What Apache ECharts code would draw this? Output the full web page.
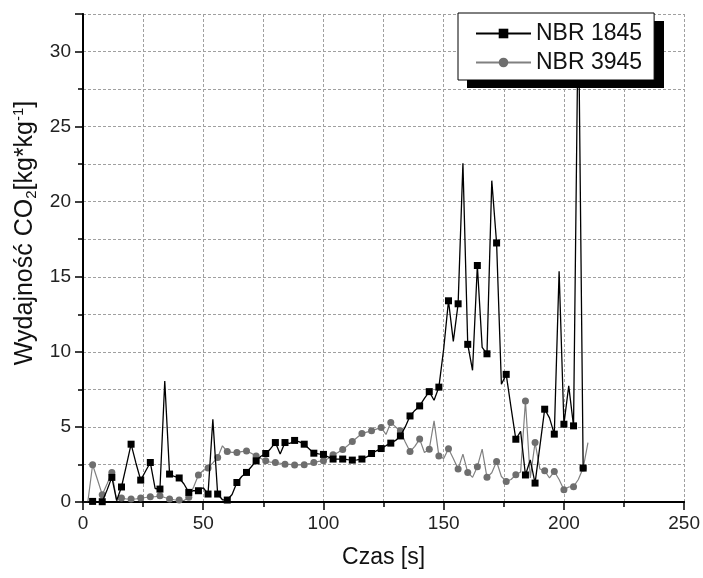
<!DOCTYPE html>
<html>
<head>
<meta charset="utf-8">
<script src="https://cdn.jsdelivr.net/npm/echarts@6/dist/echarts.min.js"></script>
<style>
  html, body { margin: 0; padding: 0; background: #fff; }
  #chart { width: 703px; height: 578px; }
</style>
</head>
<body>
<div id="chart"></div>
<script>
const seriesNames = ["NBR 1845", "NBR 3945"];

// czas [s] co 2 s
const timeA = [0, 2, 4, 6, 8, 10, 12, 14, 16, 18, 20, 22, 24, 26, 28, 30, 32, 34, 36, 38,
  40, 42, 44, 46, 48, 50, 52, 54, 56, 58, 60, 62, 64, 66, 68, 70, 72, 74, 76, 78,
  80, 82, 84, 86, 88, 90, 92, 94, 96, 98, 100, 102, 104, 106, 108, 110, 112, 114, 116, 118,
  120, 122, 124, 126, 128, 130, 132, 134, 136, 138, 140, 142, 144, 146, 148, 150, 152, 154, 156, 158,
  160, 162, 164, 166, 168, 170, 172, 174, 176, 178, 180, 182, 184, 186, 188, 190, 192, 194, 196, 198,
  200, 202, 204, 206, 208];
const valuesA = [0, 0, 0.04, 0.02, 0.02, 0.8, 1.64, 0.1, 1.0, 2.4, 3.85, 2.6, 1.46, 2.05, 2.63, 0.9, 0.86, 8.06, 1.86, 1.7,
  1.6, 1.2, 0.64, 0.75, 0.75, 0.95, 0.53, 5.5, 0.53, 0.15, 0.13, 0.5, 1.3, 1.7, 1.97, 2.35, 2.74, 3.05, 3.23, 3.55,
  3.96, 3.19, 3.96, 3.9, 4.1, 4.0, 3.85, 3.55, 3.25, 3.2, 3.17, 3.0, 2.86, 2.86, 2.86, 2.82, 2.79, 2.8, 2.86, 3.0,
  3.23, 3.4, 3.56, 3.75, 3.92, 4.1, 4.4, 5.0, 5.73, 6.1, 6.4, 6.9, 7.35, 6.78, 7.65, 10.2, 13.4, 10.7, 13.2, 22.56,
  10.5, 8.77, 15.75, 10.3, 9.87, 21.4, 17.25, 7.84, 8.5, 6.3, 4.18, 4.7, 1.8, 2.8, 1.26, 3.7, 6.18, 5.6, 4.52, 15.37,
  5.18, 7.73, 5.07, 33.5, 2.26];

const timeB = [0, 2, 4, 6, 8, 10, 12, 14, 16, 18, 20, 22, 24, 26, 28, 30, 32, 34, 36, 38,
  40, 42, 44, 46, 48, 50, 52, 54, 56, 58, 60, 62, 64, 66, 68, 70, 72, 74, 76, 78,
  80, 82, 84, 86, 88, 90, 92, 94, 96, 98, 100, 102, 104, 106, 108, 110, 112, 114, 116, 118,
  120, 122, 124, 126, 128, 130, 132, 134, 136, 138, 140, 142, 144, 146, 148, 150, 152, 154, 156, 158,
  160, 162, 164, 166, 168, 170, 172, 174, 176, 178, 180, 182, 184, 186, 188, 190, 192, 194, 196, 198,
  200, 202, 204, 206, 208, 210];
const valuesB = [0, 0, 2.48, 1.5, 0.49, 1.2, 1.97, 0.1, 0.27, 0.2, 0.2, 0.2, 0.27, 0.3, 0.35, 0.35, 0.42, 0.3, 0.2, 0.15,
  0.13, 0.1, 0.31, 1.0, 1.8, 2.1, 2.26, 2.6, 2.97, 3.74, 3.36, 3.3, 3.3, 3.35, 3.4, 3.25, 3.07, 2.9, 2.74, 2.65,
  2.63, 2.58, 2.52, 2.5, 2.46, 2.47, 2.48, 2.55, 2.63, 2.7, 2.74, 2.9, 3.14, 3.3, 3.5, 3.75, 4.03, 4.3, 4.56, 4.65,
  4.74, 4.85, 4.96, 4.5, 5.3, 5.0, 4.74, 4.0, 3.36, 3.7, 4.19, 3.3, 3.52, 5.4, 3.07, 2.9, 3.55, 2.9, 2.19, 3.19,
  1.97, 1.64, 2.35, 3.52, 1.64, 1.95, 2.7, 1.7, 1.37, 1.5, 1.81, 2.0, 6.73, 1.6, 3.96, 2.2, 2.08, 1.6, 2.03, 1.5,
  0.82, 1.0, 1.02, 1.5, 2.26, 3.96];

const xTicks = [0, 50, 100, 150, 200, 250];
const yTicks = [0, 5, 10, 15, 20, 25, 30];

const font = "'Liberation Sans', Arial, sans-serif";
const pairs = (t, v) => t.map((x, i) => [x, v[i]]);
// znacznik co drugi punkt (jak w oryginale)
const markEvery = (size) => (val, params) =>
  params && params.dataIndex > 0 && params.dataIndex % 2 === 0 ? size : 0;

const gridLine = { show: true, lineStyle: { color: "#a0a0a0", type: [3, 2], width: 1 } };

const chart = echarts.init(document.getElementById("chart"), null, { renderer: "canvas" });
chart.setOption({
  animation: false,
  backgroundColor: "#fff",
  textStyle: { fontFamily: font },
  grid: { left: 83, right: 17, top: 14, bottom: 76 },
  // cien legendy (prostokat pod ramka)
  graphic: [{
    type: "rect",
    left: 467,
    top: 21,
    z: 20,
    shape: { width: 197, height: 67 },
    style: { fill: "#000" }
  }],
  legend: {
    left: 458,
    top: 13,
    z: 30,
    orient: "vertical",
    backgroundColor: "#fff",
    borderColor: "#000",
    borderWidth: 1,
    padding: [9, 12, 6, 17],
    itemWidth: 55,
    itemHeight: 12,
    itemGap: 6,
    textStyle: { fontSize: 23, color: "#111", fontFamily: font },
    data: seriesNames
  },
  xAxis: [{
    type: "value",
    min: xTicks[0],
    max: xTicks[xTicks.length - 1],
    interval: 50,
    name: "Czas [s]",
    nameLocation: "middle",
    nameGap: 44,
    nameTextStyle: { fontSize: 23, color: "#111" },
    axisLine: { show: true, onZero: false, lineStyle: { color: "#000", width: 2 } },
    axisTick: { show: true, inside: false, length: 8, lineStyle: { color: "#000", width: 1.5 } },
    minorTick: { show: true, splitNumber: 2, length: 5, lineStyle: { color: "#000", width: 1.5 } },
    axisLabel: { fontSize: 19, color: "#222", margin: 12 },
    splitLine: gridLine,
    minorSplitLine: gridLine
  }, {
    type: "value",
    position: "top",
    min: 0,
    max: 250,
    interval: 50,
    axisLine: { show: true, lineStyle: { color: "#000", width: 1.5 } },
    axisTick: { show: false },
    axisLabel: { show: false },
    splitLine: { show: false }
  }],
  yAxis: [{
    type: "value",
    min: 0,
    max: 32.5,
    interval: 5,
    name: "Wydajność CO{sub|2}[kg*kg{sup|-1}]",
    nameLocation: "middle",
    nameGap: 40,
    nameTextStyle: {
      fontSize: 25,
      color: "#111",
      padding: [0, 0, 0, 50],
      rich: {
        sub: { fontSize: 15, color: "#111", padding: [13, 0, 0, 0] },
        sup: { fontSize: 15, color: "#111", padding: [0, 0, 13, 0] }
      }
    },
    axisLine: { show: true, onZero: false, lineStyle: { color: "#000", width: 2 } },
    axisTick: { show: true, inside: false, length: 8, lineStyle: { color: "#000", width: 1.5 } },
    minorTick: { show: true, splitNumber: 2, length: 5, lineStyle: { color: "#000", width: 1.5 } },
    axisLabel: {
      fontSize: 19,
      color: "#222",
      margin: 12,
      formatter: (v) => (yTicks.indexOf(v) >= 0 ? String(v) : "")
    },
    splitLine: gridLine,
    minorSplitLine: gridLine
  }, {
    type: "value",
    position: "right",
    min: 0,
    max: 32.5,
    interval: 5,
    axisLine: { show: true, lineStyle: { color: "#000", width: 1.5 } },
    axisTick: { show: false },
    axisLabel: { show: false },
    splitLine: { show: false }
  }],
  series: [{
    name: seriesNames[0],
    type: "line",
    data: pairs(timeA, valuesA),
    symbol: "rect",
    symbolSize: markEvery(7),
    showAllSymbol: true,
    clip: true,
    color: "#000",
    lineStyle: { color: "#000", width: 1.3 },
    itemStyle: { color: "#000" },
    z: 3
  }, {
    name: seriesNames[1],
    type: "line",
    data: pairs(timeB, valuesB),
    symbol: "circle",
    symbolSize: markEvery(7),
    showAllSymbol: true,
    clip: true,
    color: "#6e6e6e",
    lineStyle: { color: "#808080", width: 1.2 },
    itemStyle: { color: "#6e6e6e" },
    z: 2
  }]
});
</script>
</body>
</html>
